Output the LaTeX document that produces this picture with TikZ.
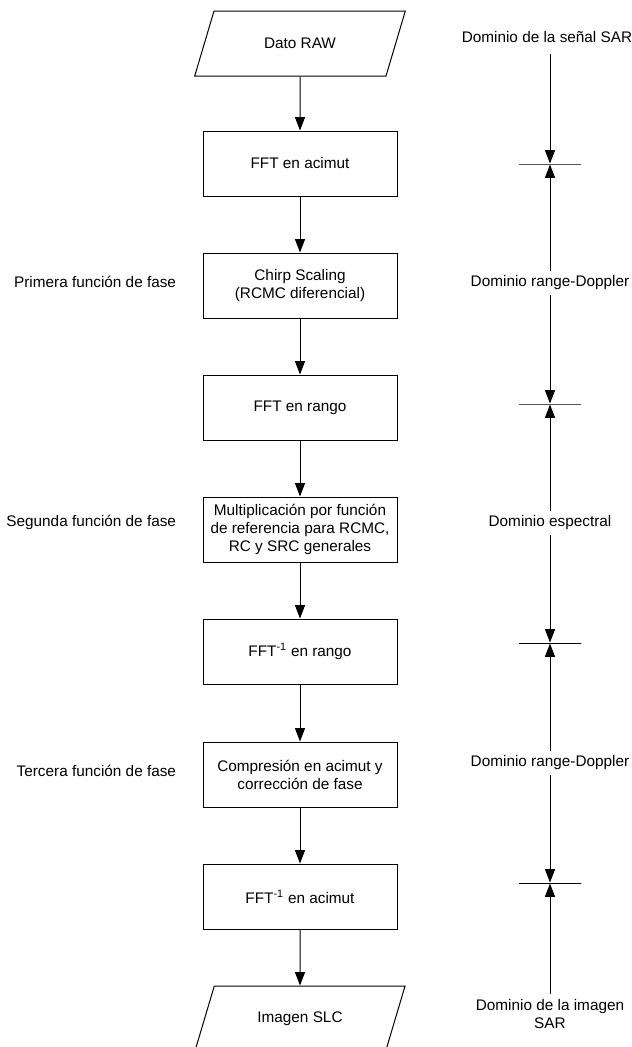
\documentclass[tikz,border=0pt]{standalone}
\usepackage{fontspec}
\setmainfont{Liberation Sans}
\usetikzlibrary{positioning}
\usetikzlibrary{shapes.geometric}
\usetikzlibrary{arrows.meta}

\begin{document}
\begin{tikzpicture}[
    x = 0.75pt, y = -0.75pt, line width = 0.75pt,
    font = \fontsize{11.5}{13.5}\selectfont,
    > = {Triangle[length = 10pt, width = 7.5pt]},
    paso/.style = {shape = rectangle, draw, minimum width = 145.5pt, minimum height = 48.75pt, align = center, inner sep = 0.1cm},
    datos/.style = {shape = trapezium, trapezium left angle = 64, trapezium right angle = 116, trapezium stretches = true, draw, minimum width = 158pt, minimum height = 48.75pt, inner sep = 0.1cm},
    fase/.style = {anchor = east},
    dominio/.style = {align = center},
    corte/.style = {shape = rectangle, draw, minimum width = 46.5pt, minimum height = 0pt, inner sep = 0pt},
    ]
    \useasboundingbox (0,0) rectangle (632,1047);

    \node[datos] (raw) at (300, 43.5) {Dato RAW};
    \node[paso] (acimut) at (300, 163.5) {FFT en acimut};
    \node[paso] (chirp) at (300, 285.5) {Chirp Scaling\\(RCMC diferencial)};
    \node[paso] (rango) at (300, 407.5) {FFT en rango};
    \node[paso] (mult) at (300, 529.5) {Multiplicación por función\\de referencia para RCMC,\\RC y SRC generales};
    \node[paso] (irango) at (300, 651.5) {FFT\textsuperscript{-1} en rango};
    \node[paso] (comp) at (300, 774.5) {Compresión en acimut y\\corrección de fase};
    \node[paso] (iacimut) at (300, 896.5) {FFT\textsuperscript{-1} en acimut};
    \node[datos] (slc) at (300, 1018.5) {Imagen SLC};

    \node[fase] (fase1) at (181, 282) {Primera función de fase};
    \node[fase] (fase2) at (181, 522) {Segunda función de fase};
    \node[fase] (fase3) at (181, 771) {Tercera función de fase};

    \path[->](raw) edge (acimut);
    \path[->](acimut) edge (chirp);
    \path[->](chirp) edge (rango);
    \path[->](rango) edge (mult);
    \path[->](mult) edge (irango);
    \path[->](irango) edge (comp);
    \path[->](comp) edge (iacimut);
    \path[->](iacimut) edge (slc);

    % dominios
    \node[corte] (t1) at (550, 164) {};
    \node[corte] (t2) at (550, 404) {};
    \node[corte] (t3) at (550, 643) {};
    \node[corte] (t4) at (550, 883) {};
    \node[dominio] (sar) at (547, 37) {Dominio de la señal SAR};
    \coordinate (sar-fin) at (550, 54);
    \node[dominio] (rd1) at (550, 283) {Dominio range-Doppler};
    \node[dominio] (esp) at (550, 523) {Dominio espectral};
    \node[dominio] (rd2) at (550, 763) {Dominio range-Doppler};
    \node[dominio] (img) at (550, 1014) {Dominio de la imagen\\SAR};

    \path[->](sar-fin) edge (t1);
    \path[->](rd1) edge (t1);
    \path[->](rd1) edge (t2);
    \path[->](esp) edge (t2);
    \path[->](esp) edge (t3);
    \path[->](rd2) edge (t3);
    \path[->](rd2) edge (t4);
    \path[->](img) edge (t4);
\end{tikzpicture}
\end{document}
